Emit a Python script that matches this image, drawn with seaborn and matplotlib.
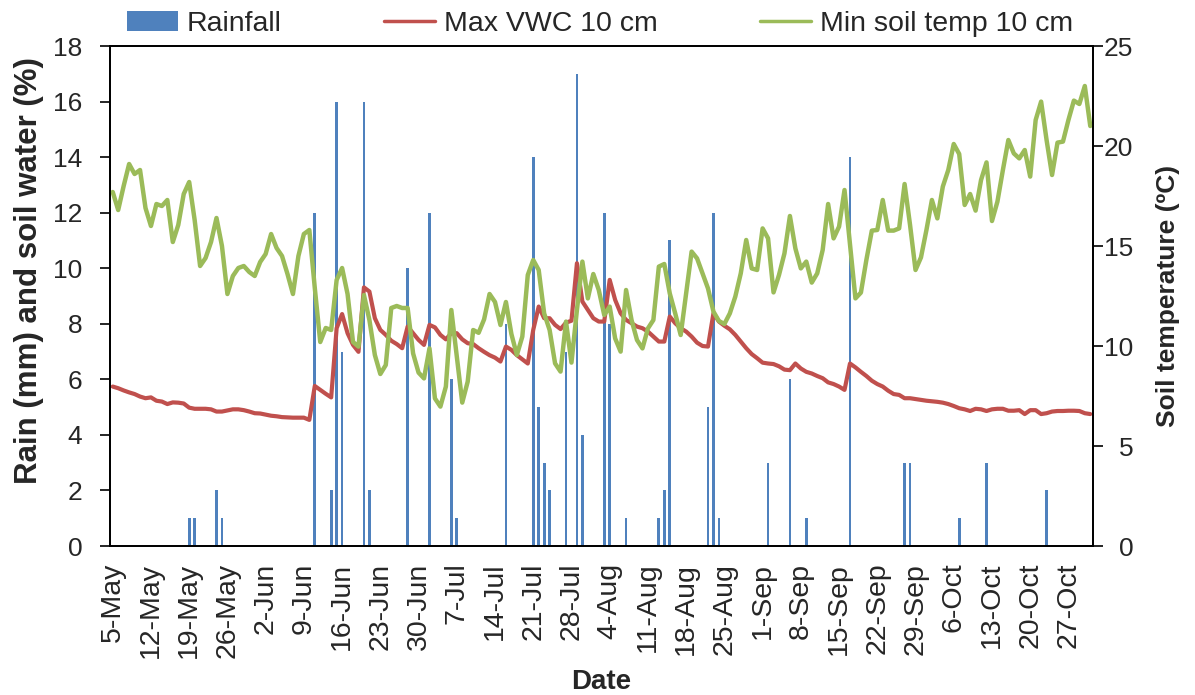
import numpy as np
import pandas as pd
import matplotlib
matplotlib.use("Agg")
import matplotlib.pyplot as plt
from matplotlib.patches import Patch
from matplotlib.lines import Line2D
import seaborn as sns

# daily series, 5-May to 31-Oct
start_date = "2013-05-05"
n_days = 180

rain_dates = ["2013-05-19", "2013-05-20", "2013-05-24", "2013-05-25", "2013-06-11",
              "2013-06-14", "2013-06-15", "2013-06-16", "2013-06-20", "2013-06-21",
              "2013-06-28", "2013-07-02", "2013-07-06", "2013-07-07", "2013-07-16",
              "2013-07-21", "2013-07-22", "2013-07-23", "2013-07-24", "2013-07-27",
              "2013-07-29", "2013-07-30", "2013-08-03", "2013-08-04", "2013-08-07",
              "2013-08-13", "2013-08-14", "2013-08-15", "2013-08-22", "2013-08-23",
              "2013-08-24", "2013-09-02", "2013-09-06", "2013-09-09", "2013-09-17",
              "2013-09-27", "2013-09-28", "2013-10-07", "2013-10-12", "2013-10-23"]
rain_mm = [1, 1, 2, 1, 12,
           2, 16, 7, 16, 2,
           10, 12, 6, 1, 8,
           14, 5, 3, 2, 7,
           17, 4, 12, 8, 1,
           1, 2, 11, 5, 12,
           1, 3, 6, 1, 14,
           3, 3, 1, 3, 2]

vwc_max = [5.74, 5.68, 5.60, 5.53, 5.47, 5.38, 5.32, 5.35, 5.23, 5.20,
           5.11, 5.17, 5.16, 5.13, 4.98, 4.94, 4.94, 4.94, 4.92, 4.84,
           4.84, 4.88, 4.92, 4.92, 4.89, 4.84, 4.78, 4.77, 4.73, 4.69,
           4.67, 4.64, 4.63, 4.62, 4.62, 4.62, 4.54, 5.76, 5.62, 5.48,
           5.35, 7.84, 8.35, 7.66, 7.24, 6.99, 9.31, 9.16, 8.20, 7.78,
           7.60, 7.39, 7.27, 7.12, 7.90, 7.66, 7.42, 7.24, 7.96, 7.87,
           7.60, 7.44, 7.66, 7.66, 7.44, 7.30, 7.27, 7.12, 6.99, 6.87,
           6.78, 6.64, 7.18, 7.06, 6.87, 6.72, 6.57, 7.78, 8.62, 8.20,
           8.20, 7.96, 7.81, 8.04, 8.11, 10.18, 8.80, 8.50, 8.20, 8.08,
           8.08, 9.58, 8.86, 8.38, 8.14, 8.02, 7.90, 7.84, 7.72, 7.54,
           7.36, 7.36, 8.26, 8.02, 7.84, 7.72, 7.54, 7.32, 7.20, 7.18,
           8.38, 8.08, 7.93, 7.80, 7.60, 7.36, 7.12, 6.91, 6.76, 6.60,
           6.57, 6.55, 6.47, 6.35, 6.33, 6.57, 6.39, 6.27, 6.21, 6.12,
           6.04, 5.89, 5.83, 5.74, 5.62, 6.57, 6.43, 6.27, 6.12, 5.95,
           5.83, 5.74, 5.59, 5.47, 5.44, 5.32, 5.32, 5.29, 5.26, 5.23,
           5.21, 5.19, 5.16, 5.11, 5.04, 4.96, 4.92, 4.86, 4.94, 4.92,
           4.86, 4.92, 4.94, 4.94, 4.87, 4.87, 4.89, 4.75, 4.89, 4.89,
           4.75, 4.78, 4.84, 4.86, 4.86, 4.87, 4.87, 4.86, 4.78, 4.75]

soil_temp_min = [17.7, 16.8, 18.0, 19.1, 18.6, 18.8, 16.9, 16.0, 17.1, 17.0,
                 17.3, 15.2, 16.05, 17.6, 18.2, 16.3, 14.0, 14.4, 15.2, 16.4,
                 15.0, 12.6, 13.5, 13.9, 14.0, 13.7, 13.5, 14.2, 14.6, 15.6,
                 14.9, 14.5, 13.6, 12.6, 14.5, 15.6, 15.8, 12.9, 10.2, 10.9,
                 10.8, 13.3, 13.9, 12.6, 10.2, 9.97, 12.55, 11.3, 9.55, 8.6,
                 9.05, 11.9, 12.0, 11.9, 11.9, 9.63, 8.67, 8.38, 9.88, 7.38,
                 6.97, 7.97, 11.8, 9.47, 7.17, 8.22, 10.8, 10.66, 11.33, 12.6,
                 12.2, 11.05, 12.2, 10.6, 9.55, 10.47, 13.55, 14.3, 13.8, 11.63,
                 10.8, 9.13, 8.72, 11.22, 9.17, 11.8, 14.22, 12.38, 13.6, 12.8,
                 11.55, 11.97, 10.38, 9.72, 12.8, 11.3, 10.3, 9.88, 10.88, 11.3,
                 13.97, 14.1, 12.63, 11.63, 10.55, 12.63, 14.72, 14.38, 13.63, 12.88,
                 11.72, 11.25, 11.1, 11.63, 12.47, 13.63, 15.3, 13.88, 13.8, 15.88,
                 15.38, 12.68, 13.55, 14.63, 16.5, 14.88, 13.88, 14.22, 13.17, 13.63,
                 14.8, 17.1, 15.38, 15.97, 17.8, 15.1, 12.38, 12.67, 14.3, 15.77,
                 15.8, 17.3, 15.77, 15.77, 15.88, 18.1, 16.05, 13.8, 14.43, 15.8,
                 17.3, 16.38, 17.97, 18.8, 20.1, 19.6, 17.05, 17.6, 16.77, 18.3,
                 19.18, 16.25, 17.22, 18.8, 20.3, 19.63, 19.38, 19.8, 18.47, 21.3,
                 22.22, 20.3, 18.55, 20.17, 20.22, 21.3, 22.27, 22.1, 23.0, 21.0]

rain_color = "#4F81BD"
vwc_color = "#C0504D"
temp_color = "#9BBB59"

sns.set_theme(style="white")
plt.rcParams["font.family"] = ["Liberation Sans", "DejaVu Sans"]

dates = pd.date_range(start_date, periods=n_days, freq="D")
day = np.arange(n_days)
rain_day = (pd.to_datetime(rain_dates) - dates[0]).days.to_numpy()

fig, ax = plt.subplots(figsize=(11.95, 6.95), dpi=100)
fig.subplots_adjust(left=110 / 1195, right=1093 / 1195, top=1 - 46 / 695, bottom=1 - 546 / 695)

sns.barplot(x=rain_day, y=rain_mm, native_scale=True, width=0.5, color=rain_color,
            saturation=1, linewidth=0, ax=ax)
sns.lineplot(x=day, y=vwc_max, color=vwc_color, lw=3, ax=ax)

ax2 = ax.twinx()
sns.lineplot(x=day, y=soil_temp_min, color=temp_color, lw=3.2, ax=ax2)

ax.set_xlim(-0.5, n_days - 0.5)
ax2.set_xlim(-0.5, n_days - 0.5)
ax.set_ylim(0, 18)
ax2.set_ylim(0, 25)
ax.set_yticks(range(0, 19, 2))
ax2.set_yticks(range(0, 26, 5))

tick_pos = day[::7]
ax.set_xticks(tick_pos)
ax.set_xticklabels([f"{d.day}-{d.strftime('%b')}" for d in dates[::7]], rotation=90)

ax.tick_params(axis="x", length=0, labelsize=20.5, pad=12)
ax.tick_params(axis="y", direction="out", length=7, width=1.2, color="black",
               labelsize=19, pad=13, left=True)
ax2.tick_params(axis="y", direction="out", length=7, width=1.2, color="black",
                labelsize=19, pad=22, right=True)
for lbl in ax2.get_yticklabels():
    lbl.set_horizontalalignment("right")

for a in (ax, ax2):
    for s in a.spines.values():
        s.set_visible(True)
        s.set_color("black")
        s.set_linewidth(1.3)

ax.set_xlabel("Date", fontsize=20, fontweight="bold", labelpad=8)
ax.set_ylabel("Rain (mm) and soil water (%)", fontsize=22.5, fontweight="bold")
ax.yaxis.set_label_coords(-0.067, 0.55)
ax2.set_ylabel("Soil temperature (ºC)", fontsize=19, fontweight="bold")
ax2.yaxis.set_label_coords(1.064, 0.5)

handles = [Patch(facecolor=rain_color, edgecolor="none"),
           Line2D([], [], color=vwc_color, lw=2.5),
           Line2D([], [], color=temp_color, lw=2.5)]
labels = ["Rainfall", "Max VWC 10 cm", "Min soil temp 10 cm"]
fig.legend(handles, labels, loc="center", bbox_to_anchor=(0.502, 0.966), ncol=3,
           frameon=False, fontsize=20.5, handlelength=1.8, handletextpad=0.3,
           columnspacing=3.6)

fig.savefig("out.png", dpi=100)
